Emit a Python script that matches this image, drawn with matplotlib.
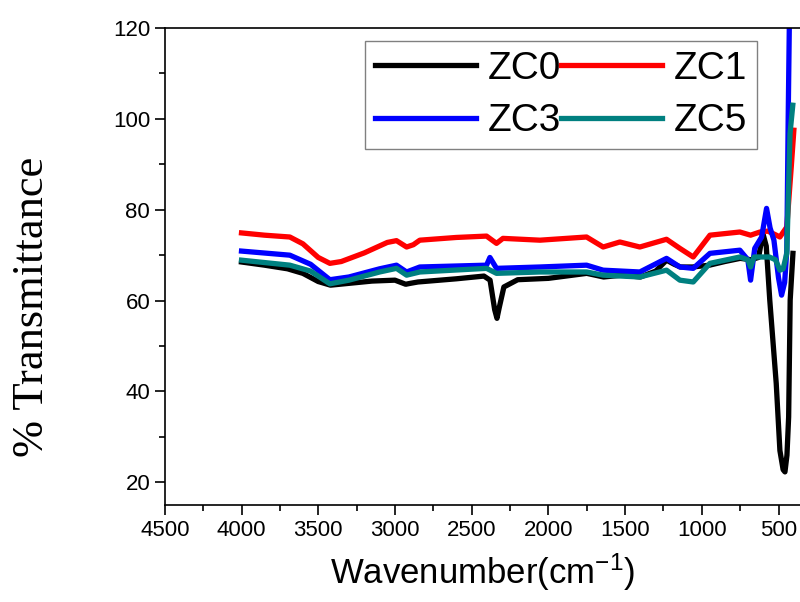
import numpy as np
import matplotlib
matplotlib.use("Agg")
import matplotlib.pyplot as plt

plt.rcParams["mathtext.fontset"] = "custom"
plt.rcParams["mathtext.rm"] = "Liberation Sans"
plt.rcParams["mathtext.it"] = "Liberation Sans"

# FTIR spectra (wavenumber, % transmittance)
zc0_x = [4000, 3850, 3700, 3600, 3500, 3420, 3300, 3150, 3000, 2930, 2900, 2850, 2600, 2420,
         2380, 2350, 2335, 2320, 2290, 2200, 2000, 1750, 1640, 1520, 1400, 1300, 1230, 1180,
         1140, 1060, 950, 850, 750, 680, 630, 602, 580, 557, 515, 491, 470, 458, 445, 434, 424, 406]
zc0_y = [68.5, 67.8, 67.0, 66.0, 64.2, 63.4, 63.8, 64.3, 64.5, 63.6, 63.8, 64.1, 64.8, 65.4,
         64.5, 58.0, 56.1, 58.5, 63.0, 64.6, 64.9, 66.0, 65.2, 65.6, 65.2, 66.5, 68.9, 68.0,
         67.4, 67.4, 67.8, 68.6, 69.3, 69.0, 69.5, 74.8, 72.0, 60.1, 41.8, 27.0, 22.8, 22.3, 26.0,
         34.4, 60.1, 70.4]

zc1_x = [4000, 3850, 3685, 3600, 3500, 3424, 3350, 3200, 3050, 2990, 2924, 2880, 2838, 2600,
         2403, 2338, 2296, 2055, 1751, 1643, 1534, 1404, 1230, 1143, 1056, 947, 752, 682, 621,
         570, 520, 491, 446, 417, 400]
zc1_y = [74.9, 74.4, 74.0, 72.5, 69.5, 68.2, 68.6, 70.5, 72.8, 73.2, 71.8, 72.3, 73.3, 73.9,
         74.2, 72.6, 73.7, 73.3, 74.0, 71.8, 72.9, 71.8, 73.5, 71.5, 69.6, 74.4, 75.1, 74.4, 75.1,
         75.3, 74.5, 74.0, 76.2, 89.4, 97.5]

zc3_x = [4000, 3685, 3550, 3424, 3300, 3100, 2990, 2924, 2838, 2403, 2381, 2338, 2055, 1751,
         1643, 1404, 1230, 1143, 1056, 947, 752, 700, 682, 655, 610, 578, 555, 530, 500, 480,
         460, 446, 437, 428, 420]
zc3_y = [70.9, 70.0, 68.0, 64.6, 65.2, 67.0, 67.8, 66.3, 67.4, 67.8, 69.5, 67.1, 67.4, 67.8,
         66.7, 66.3, 69.3, 67.4, 67.1, 70.4, 71.1, 69.0, 64.5, 71.5, 74.0, 80.3, 76.0, 73.3, 65.0,
         61.2, 64.0, 71.1, 100.0, 125.0, 135.0]

zc5_x = [4000, 3685, 3550, 3424, 3300, 3100, 2990, 2924, 2838, 2403, 2338, 2055, 1751, 1643,
         1404, 1230, 1143, 1056, 947, 752, 700, 682, 660, 560, 520, 491, 470, 446, 425, 407]
zc5_y = [68.9, 67.8, 66.5, 63.7, 64.5, 66.3, 67.1, 65.6, 66.3, 67.1, 66.0, 66.3, 66.3, 65.6,
         65.2, 66.7, 64.5, 64.1, 68.2, 69.6, 69.0, 67.4, 69.6, 69.6, 69.0, 66.7, 67.0, 70.4,
         96.8, 103.0]

labels = ["ZC0", "ZC1", "ZC3", "ZC5"]
colors = ["black", "#ff0000", "#0000ff", "#008080"]

fig = plt.figure(figsize=(8, 6.02), dpi=100)
ax = fig.add_axes([0.206, 0.161, 0.794, 0.7925])

lines = []
for xs, ys, lab, c in zip([zc0_x, zc1_x, zc3_x, zc5_x], [zc0_y, zc1_y, zc3_y, zc5_y], labels, colors):
    ln, = ax.plot(xs, ys, color=c, lw=3.8, label=lab, solid_joinstyle="round")
    lines.append(ln)

ax.set_xlim(4500, 360)
ax.set_ylim(15, 120)
ax.set_xticks(np.arange(4500, 499, -500))
ax.set_xticks(np.arange(4250, 400, -500), minor=True)
ax.set_yticks(np.arange(20, 121, 20))
ax.set_yticks(np.arange(30, 120, 20), minor=True)
ax.spines["right"].set_visible(False)
for s in ax.spines.values():
    s.set_linewidth(1.2)
ax.tick_params(which="both", direction="out", top=False, right=False, width=1.2)
ax.tick_params(which="major", length=7, labelsize=16)
ax.tick_params(which="minor", length=4)
for t in ax.get_xticklabels() + ax.get_yticklabels():
    t.set_fontfamily("Liberation Sans")

ax.set_xlabel("Wavenumber(cm$^{-1}$)", fontsize=25, fontfamily="Liberation Sans", labelpad=8)
ax.set_ylabel("% Transmittance", fontsize=32, fontfamily="Liberation Serif")
ax.yaxis.set_label_coords(-0.178, 0.415)

# row-major order: ZC0 ZC1 / ZC3 ZC5
order = [0, 2, 1, 3]
leg = ax.legend([lines[i] for i in order], [labels[i] for i in order], ncol=2,
                loc="upper left", bbox_to_anchor=(0.315, 0.972), borderaxespad=0,
                prop={"family": "Liberation Sans", "size": 28},
                handlelength=2.6, handletextpad=0.3, columnspacing=0.0,
                labelspacing=0.42, borderpad=0.25, fancybox=False, framealpha=1,
                edgecolor="#808080")
leg.get_frame().set_linewidth(1.0)

fig.savefig("out.png", dpi=100)
